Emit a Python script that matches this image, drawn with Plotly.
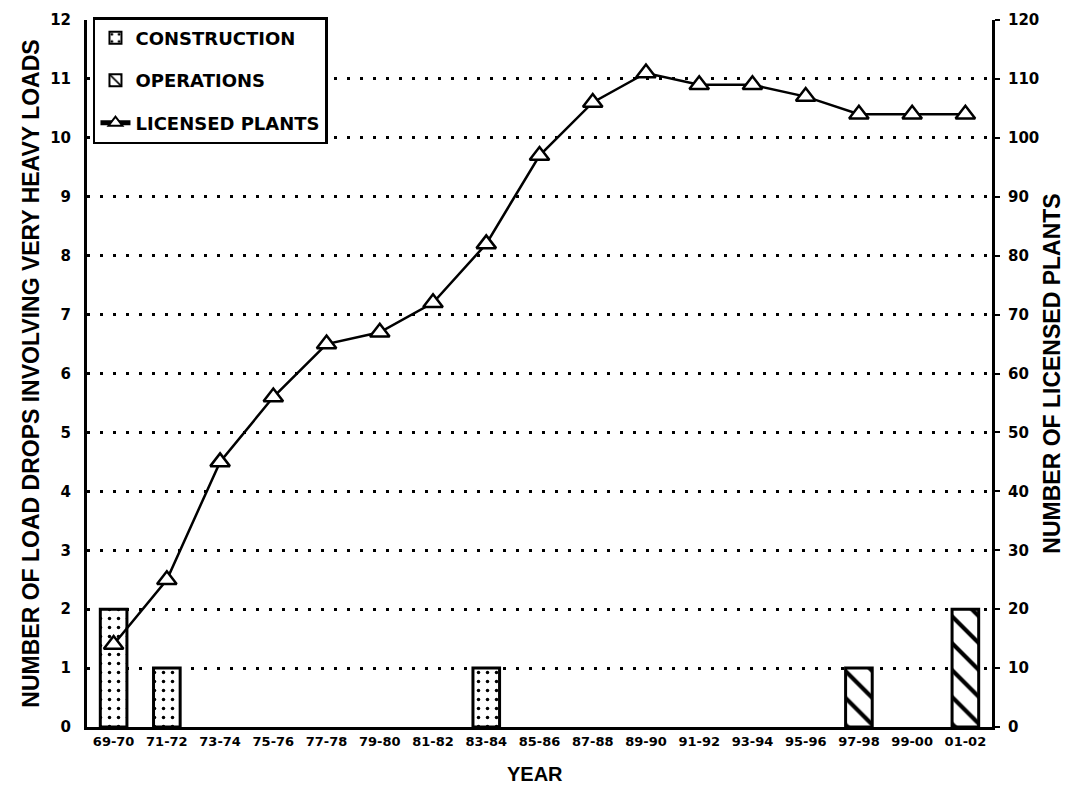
import plotly.graph_objects as go

years = ["69-70", "71-72", "73-74", "75-76", "77-78", "79-80", "81-82", "83-84",
         "85-86", "87-88", "89-90", "91-92", "93-94", "95-96", "97-98", "99-00", "01-02"]
construction = [2, 1, None, None, None, None, None, 1, None, None, None, None, None, None, None, None, None]
operations = [None, None, None, None, None, None, None, None, None, None, None, None, None, None, 1, None, 2]
licensed_plants = [14, 25, 45, 56, 65, 67, 72, 82, 97, 106, 111, 109, 109, 107, 104, 104, 104]

TFONT = "Liberation Sans"
LFONT = "DejaVu Sans"
BLACK = "black"

fig = go.Figure()

fig.add_trace(go.Bar(
    x=years, y=construction, name="CONSTRUCTION", yaxis="y", width=0.5,
    legendgroup="a",
    marker=dict(color="white", line=dict(color=BLACK, width=3),
                pattern=dict(shape=".", fgcolor=BLACK, bgcolor="white", size=9,
                             solidity=0.12, fgopacity=1)),
))
fig.add_trace(go.Bar(
    x=years, y=operations, name="OPERATIONS", yaxis="y", width=0.5,
    legendgroup="b",
    marker=dict(color="white", line=dict(color=BLACK, width=3),
                pattern=dict(shape="\\", fgcolor=BLACK, bgcolor="white", size=19,
                             solidity=0.22, fgopacity=1)),
))
fig.add_trace(go.Scatter(
    x=years, y=licensed_plants, name="LICENSED PLANTS", yaxis="y2",
    legendgroup="c",
    mode="lines+markers",
    line=dict(color=BLACK, width=2.5),
    marker=dict(symbol="triangle-up", size=17, color="white", line=dict(color=BLACK, width=2.5)),
))

fig.update_layout(
    width=1059, height=782,
    margin=dict(l=79, r=75, t=9, b=63),
    paper_bgcolor="white", plot_bgcolor="white",
    barmode="overlay",
    font=dict(family=LFONT, color=BLACK, size=13, weight="bold"),
    showlegend=True,
    legend=dict(
        x=0.0066, y=1.004, xanchor="left", yanchor="top",
        bgcolor="white", bordercolor=BLACK, borderwidth=2.5,
        font=dict(family=LFONT, size=18, color=BLACK, weight="bold"),
        traceorder="grouped", tracegroupgap=16,
        itemsizing="constant",
    ),
    xaxis=dict(
        type="category", range=[-0.5, 16.5], automargin=False,
        showline=True, linecolor=BLACK, linewidth=3,
        ticks="", showgrid=False,
        tickfont=dict(family=LFONT, size=13, weight="bold"),
    ),
    yaxis=dict(
        range=[0, 12], dtick=1, automargin=False,
        showline=True, linecolor=BLACK, linewidth=3,
        ticks="", ticklabelstandoff=10,
        showgrid=False, zeroline=False,
        tickfont=dict(family=LFONT, size=15, weight="bold"),
        minor=dict(tickvals=list(range(1, 12)), showgrid=True, gridcolor=BLACK,
                   gridwidth=2.5, griddash="3px,10px", ticklen=0),
        title=dict(text="NUMBER OF LOAD DROPS INVOLVING VERY HEAVY LOADS",
                   font=dict(family=TFONT, size=23, weight="bold"), standoff=5),
    ),
    yaxis2=dict(
        range=[0, 120], dtick=10, overlaying="y", side="right", automargin=False,
        showline=True, linecolor=BLACK, linewidth=3,
        ticks="outside", ticklen=5, tickwidth=2, tickcolor=BLACK,
        ticklabelstandoff=5,
        showgrid=False, zeroline=False,
        tickfont=dict(family=LFONT, size=15, weight="bold"),
        title=dict(text="NUMBER OF LICENSED PLANTS",
                   font=dict(family=TFONT, size=23, weight="bold"), standoff=6),
    ),
    annotations=[dict(
        text="YEAR", xref="paper", yref="paper", x=0.495, y=-0.066,
        xanchor="center", yanchor="middle", showarrow=False,
        font=dict(family=TFONT, size=20, weight="bold", color=BLACK),
    )],
)

fig.write_html("out.html")
